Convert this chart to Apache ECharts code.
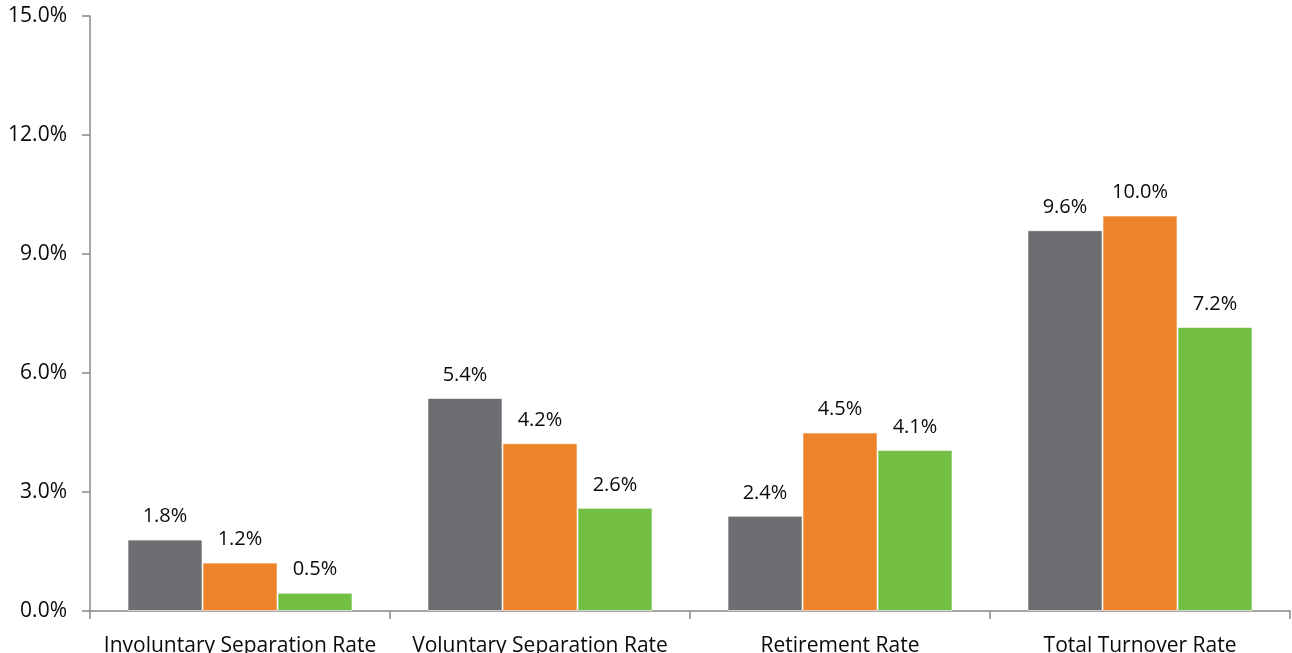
<!DOCTYPE html>
<html>
<head>
<meta charset="utf-8">
<script src="https://cdn.jsdelivr.net/npm/echarts@6/dist/echarts.min.js"></script>
<style>
html,body{margin:0;padding:0;background:#fff;}
#chart{width:1292px;height:653px;}
</style>
</head>
<body>
<div id="chart"></div>
<script>
const categories = ['Involuntary Separation Rate', 'Voluntary Separation Rate', 'Retirement Rate', 'Total Turnover Rate'];
const seriesA = [1.8, 5.37, 2.4, 9.6];
const seriesB = [1.22, 4.23, 4.5, 9.97];
const seriesC = [0.46, 2.6, 4.06, 7.16];
const yTicks = { min: 0, max: 15, interval: 3 };
const colors = ['#6D6E71', '#EE8329', '#72BF44'];
const FONT = '"Open Sans", "Noto Sans", sans-serif';

const chart = echarts.init(document.getElementById('chart'), null, { renderer: 'canvas' });

function mkSeries(data, color) {
  return {
    type: 'bar',
    data: data,
    barGap: '0%',
    barCategoryGap: '25%',
    itemStyle: { color: color, borderColor: 'rgba(255,255,255,0.6)', borderWidth: 1 },
    label: {
      show: true,
      position: 'top',
      distance: 13,
      color: '#0a0a0a',
      fontFamily: FONT,
      fontSize: 20,
      formatter: p => p.value.toFixed(1) + '%'
    },
    emphasis: { disabled: true },
    animation: false
  };
}

chart.setOption({
  animation: false,
  grid: { left: 90, right: 2, top: 16, bottom: 42, containLabel: false, outerBoundsMode: 'none' },
  xAxis: {
    type: 'category',
    data: categories,
    axisLine: { lineStyle: { color: '#888888', width: 1.5 } },
    axisTick: { show: true, length: 8, lineStyle: { color: '#888888', width: 1.5 } },
    axisLabel: { color: '#0a0a0a', fontFamily: FONT, fontSize: 21, margin: 25, interval: 0 }
  },
  yAxis: {
    type: 'value',
    min: yTicks.min,
    max: yTicks.max,
    interval: yTicks.interval,
    axisLine: { show: true, lineStyle: { color: '#888888', width: 1.5 } },
    axisTick: { show: true, length: 8, lineStyle: { color: '#888888', width: 1.5 } },
    splitLine: { show: false },
    axisLabel: { color: '#0a0a0a', fontFamily: FONT, fontSize: 21, margin: 23, formatter: v => v.toFixed(1) + '%' }
  },
  series: [mkSeries(seriesA, colors[0]), mkSeries(seriesB, colors[1]), mkSeries(seriesC, colors[2])]
});
</script>
</body>
</html>
